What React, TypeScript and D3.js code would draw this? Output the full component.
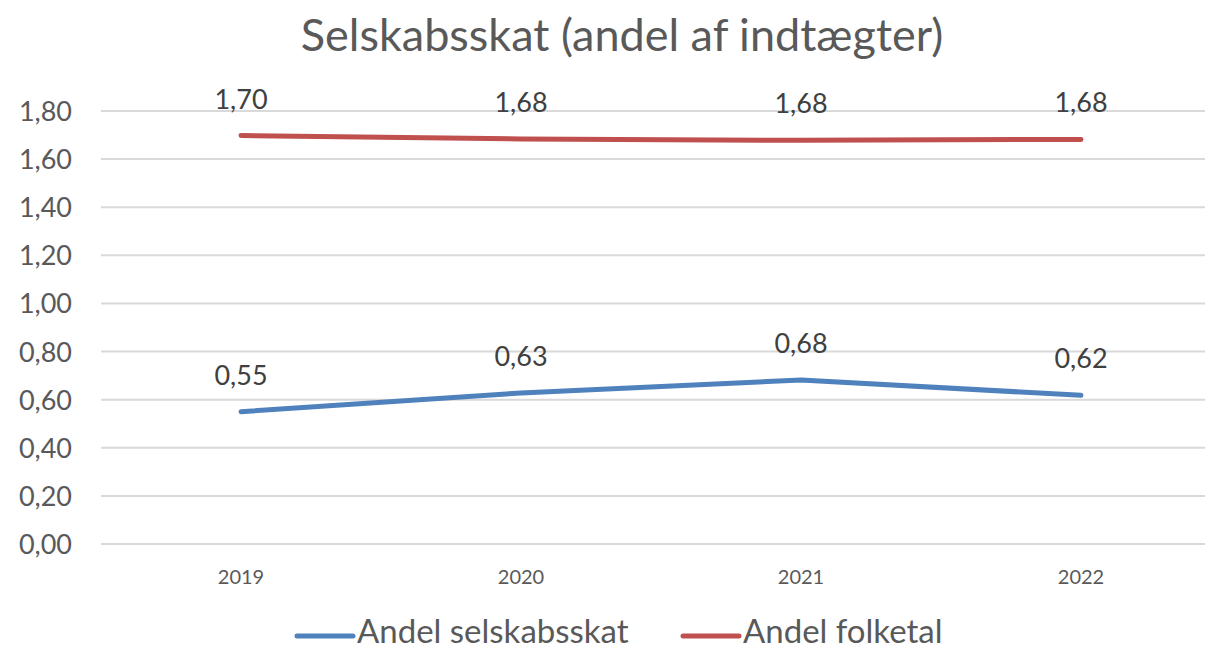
import * as d3 from "d3";

// Selskabsskat chart data
const years = ["2019", "2020", "2021", "2022"];
const andelSelskabsskat = [0.55, 0.628, 0.682, 0.618];
const andelFolketal = [1.698, 1.684, 1.678, 1.682];
const yTicks = [0, 0.2, 0.4, 0.6, 0.8, 1.0, 1.2, 1.4, 1.6, 1.8];

const seriesNames = ["Andel selskabsskat", "Andel folketal"];
const seriesColors = ["#4f81bd", "#c0504d"];

const width = 1205;
const height = 650;
const font = "Lato, 'Open Sans', sans-serif";

const fmt = (v: number) => v.toFixed(2).replace(".", ",");

export default function App() {
  const x = d3.scalePoint<string>().domain(years).range([241, 1081]);
  const y = d3.scaleLinear().domain([0, 1.8]).range([544, 111]);

  const line = d3
    .line<number>()
    .x((_, i) => x(years[i]) as number)
    .y((d) => y(d));

  const series = [andelSelskabsskat, andelFolketal];

  return (
    <svg
      width={width}
      height={height}
      style={{ position: "absolute", left: 0, top: 0, background: "#fff" }}
      fontFamily={font}
    >
      <text x={622} y={51} textAnchor="middle" fontSize={45} fill="#595959">
        Selskabsskat (andel af indtægter)
      </text>

      {/* gridlines + y labels */}
      {yTicks.map((t) => (
        <g key={t}>
          <line x1={101} x2={1221} y1={y(t)} y2={y(t)} stroke="#d9d9d9" strokeWidth={2} />
          <text x={72} y={y(t) + 10} textAnchor="end" fontSize={27} fill="#595959">
            {fmt(t)}
          </text>
        </g>
      ))}

      {/* x labels */}
      {years.map((yr) => (
        <text key={yr} x={x(yr)} y={584} textAnchor="middle" fontSize={20} fill="#595959">
          {yr}
        </text>
      ))}

      {/* lines */}
      {series.map((s, i) => (
        <path
          key={i}
          d={line(s) || ""}
          fill="none"
          stroke={seriesColors[i]}
          strokeWidth={5}
          strokeLinecap="round"
          strokeLinejoin="round"
        />
      ))}

      {/* data labels */}
      {series.map((s, i) =>
        s.map((v, j) => (
          <text
            key={`${i}-${j}`}
            x={x(years[j])}
            y={y(v) - 27}
            textAnchor="middle"
            fontSize={27}
            fill="#404040"
          >
            {fmt(v)}
          </text>
        ))
      )}

      {/* legend */}
      {[
        { x0: 297, tx: 357 },
        { x0: 683, tx: 743 },
      ].map((l, i) => (
        <g key={i}>
          <line
            x1={l.x0}
            x2={l.x0 + 56}
            y1={636}
            y2={636}
            stroke={seriesColors[i]}
            strokeWidth={5}
            strokeLinecap="round"
          />
          <text x={l.tx} y={643} fontSize={33} fill="#595959">
            {seriesNames[i]}
          </text>
        </g>
      ))}
    </svg>
  );
}
